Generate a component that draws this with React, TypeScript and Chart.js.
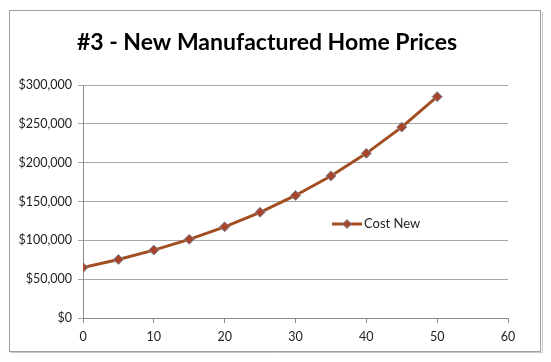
import React, { useEffect, useRef } from "react";
import { Chart, registerables } from "chart.js";

Chart.register(...registerables);

const years = [0, 5, 10, 15, 20, 25, 30, 35, 40, 45, 50];
const costNew = [65000, 75400, 87400, 101300, 117400, 136100, 157800, 182900, 212000, 245800, 285000];
const xTicks = [0, 10, 20, 30, 40, 50, 60];
const yTicks = [0, 50000, 100000, 150000, 200000, 250000, 300000];
const seriesName = "Cost New";
const titleText = "#3 - New Manufactured Home Prices";

const LINE = "#A24E22";
const MARK_FILL = "#A8442A";
const MARK_EDGE = "#7D8AA0";
const FONT = "Lato, 'Open Sans', sans-serif";

const decorPlugin = {
  id: "decor",
  beforeDraw(chart: any) {
    const ctx = chart.ctx;
    ctx.save();
    ctx.fillStyle = "#ffffff";
    ctx.fillRect(0, 0, chart.width, chart.height);
    ctx.strokeStyle = "#c8c8c8";
    ctx.lineWidth = 1;
    ctx.beginPath();
    ctx.moveTo(542.5, 12);
    ctx.lineTo(542.5, 352.5);
    ctx.lineTo(11, 352.5);
    ctx.stroke();
    ctx.strokeStyle = "#a0a0a0";
    ctx.strokeRect(9.5, 10.5, 531, 341);
    ctx.fillStyle = "#000000";
    ctx.font = `bold 23px ${FONT}`;
    ctx.textAlign = "center";
    ctx.textBaseline = "middle";
    ctx.fillText(titleText, 267, 43);
    ctx.restore();
  },
  afterDraw(chart: any) {
    const ctx = chart.ctx;
    const ca = chart.chartArea;
    const x0 = ca.left + 249;
    const y0 = ca.top + 139;
    ctx.save();
    ctx.strokeStyle = LINE;
    ctx.lineWidth = 3;
    ctx.beginPath();
    ctx.moveTo(x0, y0);
    ctx.lineTo(x0 + 30, y0);
    ctx.stroke();
    const cx = x0 + 15;
    const r = 4.5;
    ctx.fillStyle = MARK_FILL;
    ctx.strokeStyle = MARK_EDGE;
    ctx.lineWidth = 1;
    ctx.beginPath();
    ctx.moveTo(cx, y0 - r);
    ctx.lineTo(cx + r, y0);
    ctx.lineTo(cx, y0 + r);
    ctx.lineTo(cx - r, y0);
    ctx.closePath();
    ctx.fill();
    ctx.stroke();
    ctx.fillStyle = "#222222";
    ctx.font = `13px ${FONT}`;
    ctx.textAlign = "left";
    ctx.textBaseline = "middle";
    ctx.fillText(seriesName, x0 + 32, y0);
    ctx.restore();
  },
};

export default function App() {
  const ref = useRef<HTMLCanvasElement | null>(null);
  useEffect(() => {
    document.body.style.margin = "0";
    const canvas = ref.current!;
    const chart = new Chart(canvas, {
      type: "line",
      data: {
        datasets: [
          {
            label: seriesName,
            data: years.map((x, i) => ({ x, y: costNew[i] })),
            borderColor: LINE,
            borderWidth: 3,
            pointStyle: "rectRot",
            pointRadius: 5,
            pointBackgroundColor: MARK_FILL,
            pointBorderColor: MARK_EDGE,
            pointBorderWidth: 1,
            tension: 0,
          },
        ],
      },
      options: {
        animation: false,
        responsive: false,
        devicePixelRatio: 1,
        layout: { padding: { top: 85, right: 43, left: 0, bottom: 0 } },
        plugins: {
          legend: { display: false },
          title: { display: false },
          tooltip: { enabled: false },
        },
        scales: {
          x: {
            type: "linear",
            min: 0,
            max: 60,
            afterBuildTicks: (s: any) => {
              s.ticks = xTicks.map((v) => ({ value: v }));
            },
            afterFit: (s: any) => {
              s.height = 44;
            },
            grid: {
              drawOnChartArea: false,
              drawTicks: true,
              tickLength: 5,
              color: "#8c8c8c",
            },
            border: { color: "#8c8c8c", width: 1 },
            ticks: {
              color: "#222222",
              font: { family: FONT, size: 12.5 },
              padding: 6,
              maxRotation: 0,
            },
          },
          y: {
            min: 0,
            max: 300000,
            afterBuildTicks: (s: any) => {
              s.ticks = yTicks.map((v) => ({ value: v }));
            },
            afterFit: (s: any) => {
              s.width = 83;
            },
            grid: {
              color: "#a6a6a6",
              drawTicks: true,
              tickLength: 5,
            },
            border: { color: "#8c8c8c", width: 1 },
            ticks: {
              color: "#222222",
              font: { family: FONT, size: 12.5 },
              padding: 6,
              callback: (v: any) => "$" + Number(v).toLocaleString("en-US"),
            },
          },
        },
      },
      plugins: [decorPlugin],
    });
    return () => chart.destroy();
  }, []);
  return (
    <div style={{ position: "absolute", left: 0, top: 0, width: 551, height: 362 }}>
      <canvas ref={ref} width={551} height={362} style={{ width: 551, height: 362 }} />
    </div>
  );
}
